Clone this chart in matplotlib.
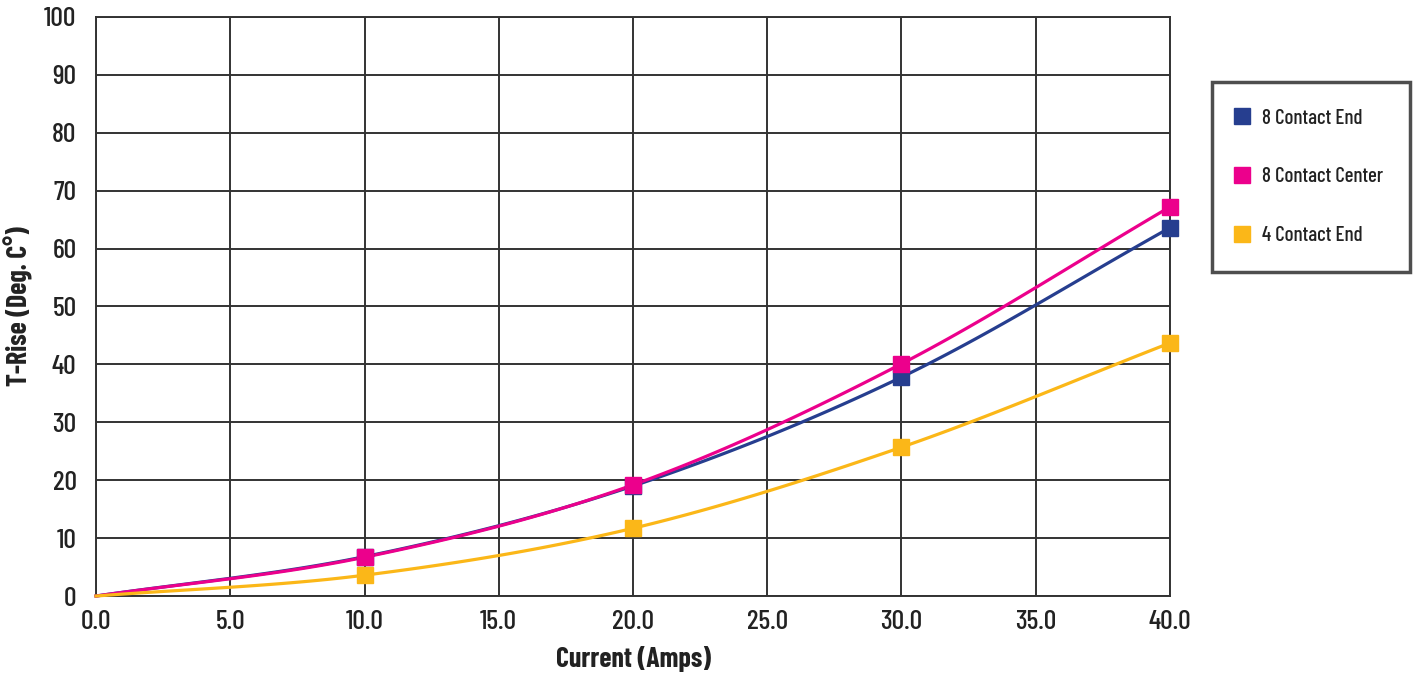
import numpy as np
import matplotlib
matplotlib.use("Agg")
from matplotlib import pyplot as plt
from matplotlib.lines import Line2D

# Data
current = [0.0, 10.0, 20.0, 30.0, 40.0]
end_8 = [0.0, 6.8, 19.0, 37.8, 63.6]
center_8 = [0.0, 6.7, 19.2, 40.1, 67.2]
end_4 = [0.0, 3.6, 11.7, 25.7, 43.7]

series_names = ['8 Contact End', '8 Contact Center', '4 Contact End']
series_colors = ['#263e8f', '#ec008c', '#fbb718']

x_ticks = [0, 5, 10, 15, 20, 25, 30, 35, 40]
y_ticks = [0, 10, 20, 30, 40, 50, 60, 70, 80, 90, 100]

plt.rcParams['font.family'] = ['Barlow Condensed', 'Barlow Semi Condensed', 'Archivo Narrow', 'DejaVu Sans']


# Catmull-Rom smoothing only for drawing (like a smoothed line in a spreadsheet)
def smooth(xs, ys, n=30):
    xs = np.asarray(xs, float)
    ys = np.asarray(ys, float)
    px = np.concatenate([[2 * xs[0] - xs[1]], xs, [2 * xs[-1] - xs[-2]]])
    py = np.concatenate([[2 * ys[0] - ys[1]], ys, [2 * ys[-1] - ys[-2]]])
    out_x, out_y = [], []
    t = np.linspace(0, 1, n)
    for i in range(1, len(px) - 2):
        for p, out in ((px, out_x), (py, out_y)):
            p0, p1, p2, p3 = p[i - 1], p[i], p[i + 1], p[i + 2]
            seg = 0.5 * ((2 * p1) + (-p0 + p2) * t + (2 * p0 - 5 * p1 + 4 * p2 - p3) * t ** 2
                         + (-p0 + 3 * p1 - 3 * p2 + p3) * t ** 3)
            out.extend(seg)
    return np.array(out_x), np.array(out_y)


fig = plt.figure(figsize=(14.19, 6.76), dpi=100)
ax = fig.add_axes([0.0677, 0.1183, 0.7568, 0.8566])

handles = []
for ys, name, col in zip([end_8, center_8, end_4], series_names, series_colors):
    sx, sy = smooth(current, ys)
    ax.plot(sx, sy, color=col, linewidth=2.3, zorder=3, clip_on=False)
    ax.plot(current[1:], ys[1:], linestyle='none', marker='s', markersize=12,
            color=col, zorder=4, clip_on=False)
    handles.append(Line2D([], [], linestyle='none', marker='s', markersize=11, color=col))

ax.set_xlim(0, 40)
ax.set_ylim(0, 100)
ax.set_xticks(x_ticks)
ax.set_xticklabels(['%.1f' % v for v in x_ticks])
ax.set_yticks(y_ticks)
ax.grid(True, color='#333333', linewidth=1.4)
ax.set_axisbelow(True)
for s in ax.spines.values():
    s.set_color('#333333')
    s.set_linewidth(1.4)
ax.tick_params(length=0, labelsize=20)
ax.tick_params(axis='x', pad=10)
ax.tick_params(axis='y', pad=14)
for lab in ax.get_xticklabels() + ax.get_yticklabels():
    lab.set_fontweight('medium')
    lab.set_color('#222222')

ax.set_xlabel('Current (Amps)', fontsize=20, fontweight='bold', labelpad=9, color='#222222')
ax.set_ylabel('T-Rise (Deg. C°)', fontsize=20, fontweight='bold', labelpad=8, color='#222222')

leg = fig.legend(handles, series_names, loc='upper left',
                 bbox_to_anchor=(0.854, 0.8787), borderaxespad=0,
                 fontsize=15, frameon=True, fancybox=False, borderpad=1.28,
                 labelspacing=1.91, handletextpad=0.79, handlelength=0.33)
leg.get_frame().set_edgecolor('#222222')
leg.get_frame().set_linewidth(2.5)
for t in leg.get_texts():
    t.set_color('#222222')
    t.set_fontweight('medium')

fig.savefig('out.png', dpi=100)
